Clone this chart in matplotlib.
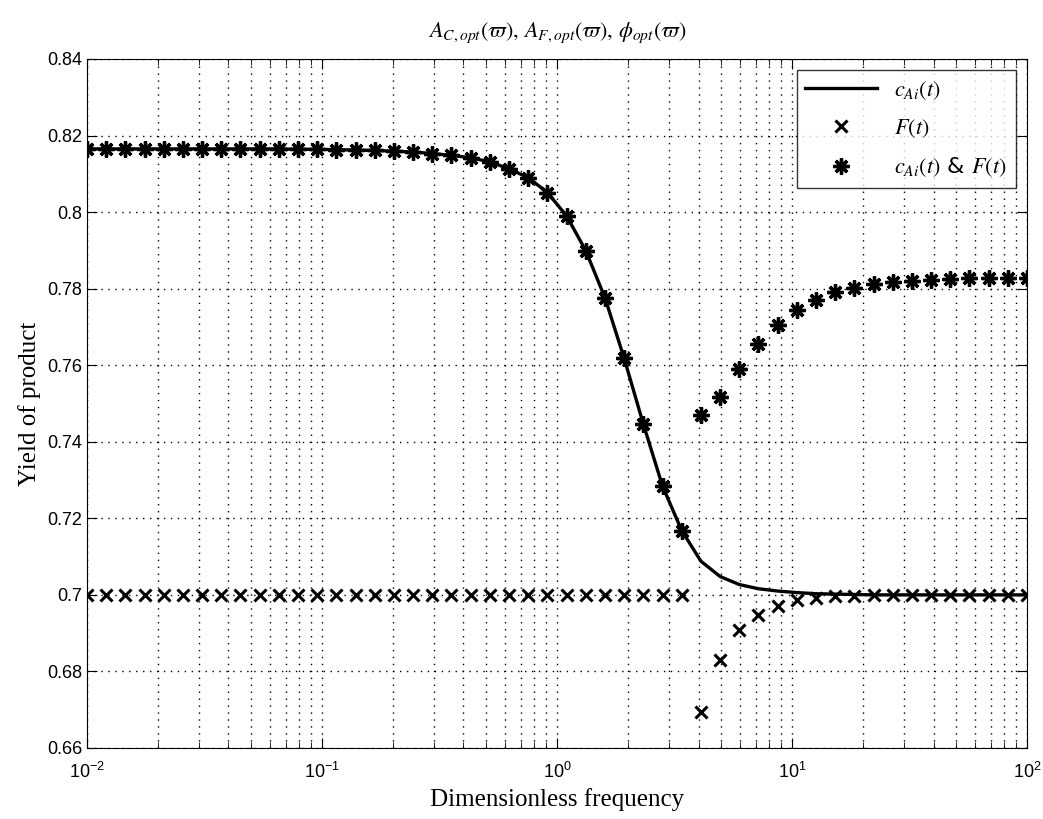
import numpy as np
import matplotlib
matplotlib.use("Agg")
import matplotlib.pyplot as plt
from matplotlib.ticker import LogLocator, NullFormatter

# Dimensionless frequency grid (50 log-spaced samples, 1e-2 .. 1e2)
freq = np.logspace(-2, 2, 50)

# c_Ai(t) forcing only
yield_c = [0.8165, 0.8165, 0.8165, 0.8165, 0.8165, 0.8165, 0.8165, 0.8165, 0.8165, 0.8165,
           0.8165, 0.8164, 0.8164, 0.8163, 0.8162, 0.8161, 0.8159, 0.8157, 0.8153, 0.8148,
           0.8142, 0.8131, 0.8113, 0.8090, 0.8051, 0.7990, 0.7899, 0.7776, 0.7618, 0.7446,
           0.7284, 0.7168, 0.7088, 0.7048, 0.7027, 0.7016, 0.7010, 0.7006, 0.7003, 0.7002,
           0.7001, 0.7000, 0.7000, 0.7000, 0.7000, 0.7000, 0.7000, 0.7000, 0.7000, 0.7000]

# F(t) forcing only
yield_f = [0.7000] * 32 + [0.6695, 0.6830, 0.6907, 0.6948, 0.6972, 0.6987, 0.6993, 0.6997,
                           0.6998, 0.6999, 0.7000, 0.7000, 0.7000, 0.7000, 0.7000, 0.7000,
                           0.7000, 0.7000]

# c_Ai(t) & F(t) together
yield_cf = yield_c[:32] + [0.7469, 0.7517, 0.7591, 0.7656, 0.7706, 0.7745, 0.7771, 0.7791,
                           0.7802, 0.7812, 0.7817, 0.7819, 0.7823, 0.7825, 0.7827, 0.7827,
                           0.7827, 0.7829]

plt.rcParams["mathtext.fontset"] = "stix"

fig = plt.figure(figsize=(10.43, 8.19), dpi=100)
ax = fig.add_axes([0.0834, 0.0867, 0.9013, 0.8413])

ax.plot(freq, yield_c, "k-", lw=2.4, label=r"$c_{Ai}(t)$")
ax.plot(freq, yield_f, "kx", ls="none", ms=8.5, mew=2.2, label=r"$F(t)$")
ax.plot(freq, yield_cf, color="k", marker=(8, 2, 0), ls="none", ms=11.5, mew=2.4,
        label=r"$c_{Ai}(t)$ & $F(t)$")

ax.set_xscale("log")
ax.set_xlim(1e-2, 1e2)
ax.set_ylim(0.66, 0.84)
ax.set_yticks(np.arange(0.66, 0.841, 0.02))
ax.set_yticklabels(["0.66", "0.68", "0.7", "0.72", "0.74", "0.76", "0.78", "0.8", "0.82", "0.84"])
ax.xaxis.set_minor_locator(LogLocator(base=10, subs=np.arange(2, 10), numticks=20))
ax.xaxis.set_minor_formatter(NullFormatter())

dots = (0, (1, 4))
ax.grid(True, which="major", color="k", ls=dots, lw=1.0)
ax.grid(True, which="minor", axis="x", color="k", ls=dots, lw=1.0)
ax.tick_params(which="both", direction="in", top=True, right=True, labelsize=13)
ax.tick_params(which="major", length=7)
ax.tick_params(which="minor", length=4)
ax.tick_params(axis="x", pad=10)
for lab in ax.get_xticklabels() + ax.get_yticklabels():
    lab.set_fontfamily("Liberation Sans")

ax.set_xlabel("Dimensionless frequency", fontsize=18, family="Liberation Serif", labelpad=4)
ax.set_ylabel("Yield of product", fontsize=18, family="Liberation Serif")
ax.set_title(r"$A_{C,opt}(\varpi),\, A_{F,opt}(\varpi),\, \phi_{opt}(\varpi)$", fontsize=16, pad=16)

leg = ax.legend(loc="upper right", fontsize=16, fancybox=False, edgecolor="k",
                borderaxespad=0.5, handlelength=3.2, labelspacing=0.7)
leg.get_frame().set_linewidth(1.0)

fig.savefig("out.png", dpi=100)
